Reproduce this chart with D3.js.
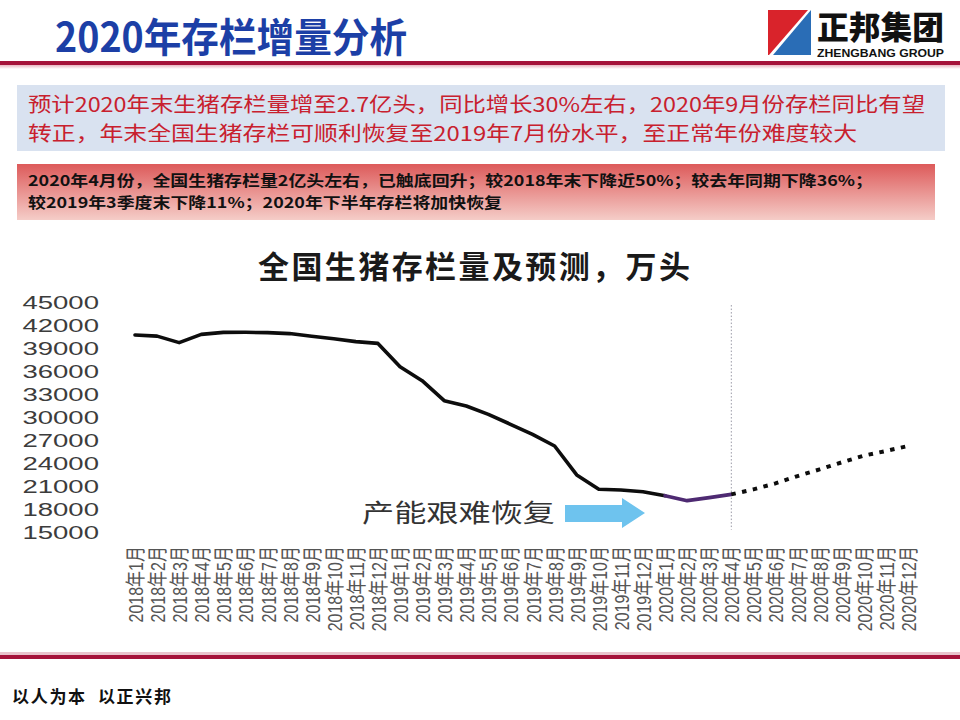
<!DOCTYPE html>
<html>
<head>
<meta charset="utf-8">
<script src="https://cdn.jsdelivr.net/npm/d3@7"></script>
<style>
  html, body { margin: 0; padding: 0; background: #fff; }
  svg { display: block; }
</style>
</head>
<body>
<svg id="slide"></svg>
<script>
// months on the x axis
var categories = [
  "2018年1月", "2018年2月", "2018年3月", "2018年4月", "2018年5月", "2018年6月",
  "2018年7月", "2018年8月", "2018年9月", "2018年10月", "2018年11月", "2018年12月",
  "2019年1月", "2019年2月", "2019年3月", "2019年4月", "2019年5月", "2019年6月",
  "2019年7月", "2019年8月", "2019年9月", "2019年10月", "2019年11月", "2019年12月",
  "2020年1月", "2020年2月", "2020年3月", "2020年4月", "2020年5月", "2020年6月",
  "2020年7月", "2020年8月", "2020年9月", "2020年10月", "2020年11月", "2020年12月"
];

// 万头, 2018年1月 - 2020年1月
var stockHistory = [
  40700, 40550, 39700, 40780, 41040, 41050, 41000, 40880, 40530, 40210, 39830, 39600,
  36560, 34740, 32130, 31440, 30350, 29050, 27740, 26220, 22440, 20570, 20480, 20260,
  19740
];
// 2020年1月 - 2020年4月
var stock2020 = [19740, 19090, 19480, 19910];
// forecast 2020年4月 - 2020年12月
var stockForecast = [19910, 20560, 21340, 22300, 23170, 24090, 24960, 25570, 26220];

var yTicks = [45000, 42000, 39000, 36000, 33000, 30000, 27000, 24000, 21000, 18000, 15000];

var cjk = "'Noto Sans CJK SC', 'Noto Sans', sans-serif";
var latin = "'Liberation Sans', Arial, 'Noto Sans CJK SC', sans-serif";

var svg = d3.select("#slide").attr("width", 960).attr("height", 720);
var defs = svg.append("defs");

// one text element per line, stretched to the width it has in the slide
function textLines(x, ys, lines, lengths, attrs) {
  lines.forEach(function (s, i) {
    var t = svg.append("text").attr("font-family", cjk)
      .attr("x", x).attr("y", ys[i])
      .attr("textLength", lengths[i]).attr("lengthAdjust", "spacingAndGlyphs");
    Object.keys(attrs).forEach(function (k) { t.attr(k, attrs[k]); });
    t.text(s);
  });
}

// ---------------- header ----------------
svg.append("text")
  .attr("x", 55).attr("y", 52)
  .attr("font-family", cjk).attr("font-weight", "bold").attr("font-size", 40)
  .attr("fill", "#1c3fa6")
  .attr("textLength", 352).attr("lengthAdjust", "spacingAndGlyphs")
  .text("2020年存栏增量分析");

// logo
var logo = svg.append("g").attr("transform", "translate(768,10)");
logo.append("path").attr("d", "M0,0 L40,0 L1,45 L0,45 Z").attr("fill", "#d9232b");
logo.append("path").attr("d", "M43,0 L43,45 L5,45 Z").attr("fill", "#2a6db6");
var logoText = svg.append("text").attr("fill", "#111");
logoText.append("tspan")
  .attr("x", 817).attr("y", 39)
  .attr("font-family", cjk).attr("font-weight", "900").attr("font-size", 32)
  .attr("textLength", 127).attr("lengthAdjust", "spacingAndGlyphs")
  .text("正邦集团");
logoText.append("tspan")
  .attr("x", 817).attr("y", 57)
  .attr("font-family", latin).attr("font-weight", "bold").attr("font-size", 11)
  .attr("textLength", 127).attr("lengthAdjust", "spacingAndGlyphs")
  .text("ZHENGBANG GROUP");

// red rules
var shade = defs.append("linearGradient")
  .attr("id", "ruleShade").attr("x1", 0).attr("x2", 0).attr("y1", 0).attr("y2", 1);
shade.append("stop").attr("offset", "0%").attr("stop-color", "#e8b5c0");
shade.append("stop").attr("offset", "100%").attr("stop-color", "#ffffff");
svg.append("rect").attr("x", 0).attr("y", 61).attr("width", 960).attr("height", 4).attr("fill", "#a5123a");
svg.append("rect").attr("x", 0).attr("y", 65).attr("width", 960).attr("height", 4).attr("fill", "url(#ruleShade)");
svg.append("rect").attr("x", 0).attr("y", 652).attr("width", 960).attr("height", 3).attr("fill", "#e9c3cc");
svg.append("rect").attr("x", 0).attr("y", 655).attr("width", 960).attr("height", 4).attr("fill", "#a5123a");

// blue note box
svg.append("rect").attr("x", 17).attr("y", 85).attr("width", 928).attr("height", 66).attr("fill", "#d9e2f0");
textLines(28, [112, 141],
  ["预计2020年末生猪存栏量增至2.7亿头，同比增长30%左右，2020年9月份存栏同比有望",
   "转正，年末全国生猪存栏可顺利恢复至2019年7月份水平，至正常年份难度较大"],
  [897, 829],
  { "font-size": 20, "fill": "#c8202e" });

// red note box
var redFill = defs.append("linearGradient")
  .attr("id", "redFill").attr("x1", 0).attr("x2", 0).attr("y1", 0).attr("y2", 1);
redFill.append("stop").attr("offset", "0%").attr("stop-color", "#dd5a5a");
redFill.append("stop").attr("offset", "100%").attr("stop-color", "#f5cdc8");
svg.append("rect").attr("x", 17).attr("y", 164).attr("width", 918).attr("height", 56).attr("fill", "url(#redFill)");
textLines(28, [186, 208],
  ["2020年4月份，全国生猪存栏量2亿头左右，已触底回升；较2018年末下降近50%；较去年同期下降36%；",
   "较2019年3季度末下降11%；2020年下半年存栏将加快恢复"],
  [845, 474],
  { "font-size": 15, "font-weight": "bold", "fill": "#111" });

// footer
svg.append("text")
  .attr("x", 12).attr("y", 703)
  .attr("font-family", cjk).attr("font-weight", "bold").attr("font-size", 17).attr("fill", "#111")
  .attr("xml:space", "preserve")
  .attr("textLength", 159).attr("lengthAdjust", "spacing")
  .text("以人为本  以正兴邦");

// ---------------- chart ----------------
svg.append("text")
  .attr("x", 258).attr("y", 278)
  .attr("font-family", cjk).attr("font-weight", "bold").attr("font-size", 31).attr("fill", "#1a1a1a")
  .attr("textLength", 432).attr("lengthAdjust", "spacing")
  .text("全国生猪存栏量及预测，万头");

var x = d3.scalePoint()
  .domain(categories)
  .range([135, 908]);

var y = d3.scaleLinear()
  .domain([15000, 45000])
  .range([532, 302]);

var yAxis = d3.axisLeft(y)
  .tickValues(yTicks)
  .tickSize(0)
  .tickPadding(0)
  .tickFormat(d3.format("d"));

var yG = svg.append("g")
  .attr("transform", "translate(99,0)")
  .call(yAxis);
yG.select(".domain").remove();
yG.selectAll("text")
  .attr("font-family", latin)
  .attr("font-size", 19)
  .attr("fill", "#3c3c3c")
  .attr("dy", "0.36em")
  .attr("transform", "scale(1.45,1)");

var xAxis = d3.axisBottom(x).tickSize(0).tickPadding(0);
var xG = svg.append("g")
  .attr("transform", "translate(0,546)")
  .call(xAxis);
xG.select(".domain").remove();
xG.selectAll("text")
  .attr("font-family", latin)
  .attr("font-size", 16)
  .attr("fill", "#555")
  .attr("x", 0).attr("y", 0)
  .attr("dy", "0.36em")
  .attr("text-anchor", "end")
  .attr("transform", "scale(1.3,1) rotate(-90)");

// current month marker
svg.append("line")
  .attr("x1", x("2020年4月")).attr("x2", x("2020年4月"))
  .attr("y1", y(44600)).attr("y2", y(15300))
  .attr("stroke", "#9a9aa6").attr("stroke-width", 1)
  .attr("stroke-dasharray", "1.5,2");

var histCats = categories.slice(0, stockHistory.length);
var cats2020 = categories.slice(stockHistory.length - 1, stockHistory.length - 1 + stock2020.length);
var foreCats = categories.slice(categories.length - stockForecast.length);

var line = d3.line()
  .x(function (d) { return x(d.month); })
  .y(function (d) { return y(d.value); });

function pairs(cats, vals) {
  return vals.map(function (v, i) { return { month: cats[i], value: v }; });
}

svg.append("path")
  .attr("d", line(pairs(histCats, stockHistory)))
  .attr("fill", "none").attr("stroke", "#0d0d0d")
  .attr("stroke-width", 3.6).attr("stroke-linejoin", "round").attr("stroke-linecap", "round");

svg.append("path")
  .attr("d", line(pairs(cats2020, stock2020)))
  .attr("fill", "none").attr("stroke", "#4e2a72")
  .attr("stroke-width", 3.6).attr("stroke-linejoin", "round").attr("stroke-linecap", "round");

svg.append("path")
  .attr("d", line(pairs(foreCats, stockForecast)))
  .attr("fill", "none").attr("stroke", "#0d0d0d")
  .attr("stroke-width", 4).attr("stroke-dasharray", "4.5,6.5");

// annotation
svg.append("text")
  .attr("x", 362).attr("y", 522)
  .attr("font-family", cjk).attr("font-size", 25).attr("fill", "#333")
  .attr("textLength", 193).attr("lengthAdjust", "spacingAndGlyphs")
  .text("产能艰难恢复");

svg.append("path")
  .attr("d", "M565,505 L622,505 L622,498 L645,513 L622,528 L622,522 L565,522 Z")
  .attr("fill", "#6ec3ee");
</script>
</body>
</html>
